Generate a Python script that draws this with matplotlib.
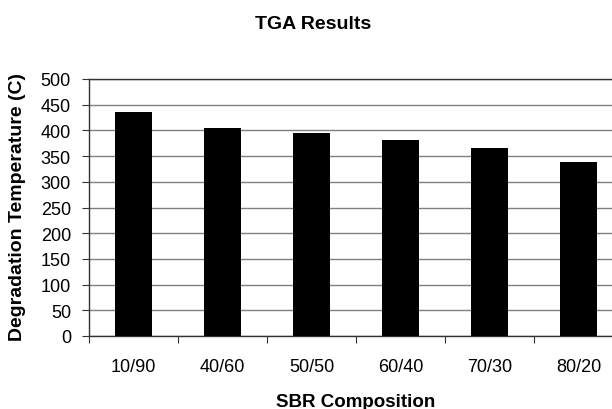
import matplotlib
matplotlib.use("Agg")
import matplotlib.pyplot as plt
import numpy as np

plt.rcParams['font.family'] = ['Liberation Sans', 'DejaVu Sans']

compositions = ["10/90", "40/60", "50/50", "60/40", "70/30", "80/20"]
degradation_temp = [435, 404, 395, 381, 365, 338]
y_ticks = [0, 50, 100, 150, 200, 250, 300, 350, 400, 450, 500]

fig = plt.figure(figsize=(6.12, 4.10), dpi=100)
ax = fig.add_axes([89 / 612, 73 / 410, 534 / 612, 257 / 410])

x = np.arange(len(compositions))
ax.bar(x, degradation_temp, width=0.42, color='black', zorder=3)

ax.set_xlim(-0.5, len(compositions) - 0.5)
ax.set_ylim(0, 500)
ax.set_yticks(y_ticks)
ax.set_yticklabels([str(v) for v in y_ticks], fontsize=13)
ax.set_xticks(x)
ax.set_xticklabels(compositions, fontsize=13)
ax.set_xticks(np.arange(-0.5, len(compositions)), minor=True)

ax.yaxis.grid(True, color='#808080', linewidth=1.0, zorder=0)
ax.set_axisbelow(True)

ax.tick_params(axis='x', which='major', length=0, pad=16)
ax.tick_params(axis='x', which='minor', length=5, width=0.8, color='#333333')
ax.tick_params(axis='y', which='major', length=5, width=0.8, color='#333333', pad=8)

for side in ['left', 'bottom', 'top', 'right']:
    ax.spines[side].set_color('#333333')
    ax.spines[side].set_linewidth(1.0)

fig.text(313 / 612, 1 - 29 / 410, "TGA Results", ha='center', va='baseline',
         fontsize=14, fontweight='bold')
fig.text(356 / 612, 1 - 407 / 410, "SBR Composition", ha='center', va='baseline',
         fontsize=13.5, fontweight='bold')
fig.text(18 / 612, 1 - 207 / 410, "Degradation Temperature (C)", ha='center',
         va='center', rotation=90, fontsize=14, fontweight='bold')

fig.savefig("out.png", dpi=100, facecolor='white')
